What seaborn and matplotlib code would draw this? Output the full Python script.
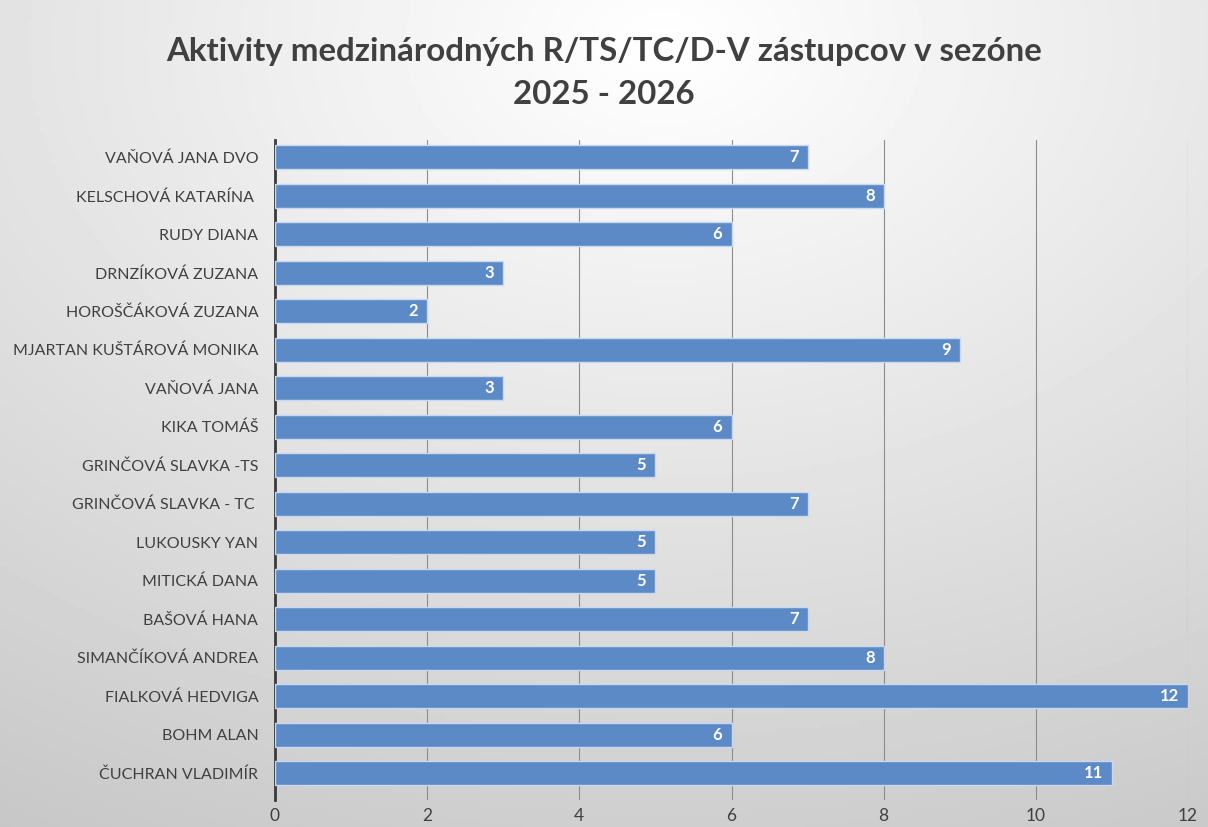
import numpy as np
import pandas as pd
import matplotlib
matplotlib.use("Agg")
import matplotlib.pyplot as plt
import seaborn as sns

names = [
    "VAŇOVÁ JANA DVO",
    "KELSCHOVÁ KATARÍNA ",
    "RUDY DIANA",
    "DRNZÍKOVÁ ZUZANA",
    "HOROŠČÁKOVÁ ZUZANA",
    "MJARTAN KUŠTÁROVÁ MONIKA",
    "VAŇOVÁ JANA",
    "KIKA TOMÁŠ",
    "GRINČOVÁ SLAVKA -TS",
    "GRINČOVÁ SLAVKA - TC ",
    "LUKOUSKY YAN",
    "MITICKÁ DANA",
    "BAŠOVÁ HANA",
    "SIMANČÍKOVÁ ANDREA",
    "FIALKOVÁ HEDVIGA",
    "BOHM ALAN",
    "ČUCHRAN VLADIMÍR",
]
activities = [7, 8, 6, 3, 2, 9, 3, 6, 5, 7, 5, 5, 7, 8, 12, 6, 11]
x_ticks = [0, 2, 4, 6, 8, 10, 12]

title = "Aktivity medzinárodných R/TS/TC/D-V zástupcov v sezóne\n2025 - 2026"

bar_color = "#5B8AC6"
text_color = "#404040"

sns.set_theme(style="white")
plt.rcParams["font.family"] = ["Lato", "DejaVu Sans"]

df = pd.DataFrame({"name": names, "value": activities})

fig = plt.figure(figsize=(12.08, 8.27), dpi=100)

# gradient background over whole figure
bg = fig.add_axes([0, 0, 1, 1], zorder=-10)
yy, xx = np.mgrid[0:1:200j, 0:1:300j]
r = np.sqrt(((xx - 0.55) / 1.0) ** 2 + ((yy - 0.05) / 1.0) ** 2)
bg.imshow(1 - 0.2 * np.clip(r, 0, 1.1), cmap="gray", vmin=0, vmax=1,
          aspect="auto", extent=[0, 1, 1, 0])
bg.axis("off")

ax = fig.add_axes([275 / 1208, 1 - 800 / 827, (1188 - 275) / 1208, (800 - 140) / 827])
ax.patch.set_alpha(0)

sns.barplot(data=df, y="name", x="value", order=names, color=bar_color,
            width=0.62, edgecolor="#C9D8EE", linewidth=1.0, saturation=1,
            ax=ax, zorder=3)

for p, v in zip(ax.patches, activities):
    ax.text(p.get_width() - 0.12, p.get_y() + p.get_height() / 2, str(v),
            ha="right", va="center", color="white", fontsize=12,
            fontweight="bold", zorder=4)

ax.set_xlim(0, 12)
ax.set_ylim(16.7, -0.45)
ax.set_xticks(x_ticks)
ax.set_xticklabels([str(t) for t in x_ticks], fontsize=12.5, color=text_color)
ax.tick_params(axis="x", length=0, pad=6)
ax.tick_params(axis="y", length=0, pad=12, labelsize=11.5, labelcolor=text_color)
ax.set_xlabel("")
ax.set_ylabel("")
ax.xaxis.grid(True, color="#8C8C8C", linewidth=0.8, zorder=0)
ax.set_axisbelow(True)
for s in ["top", "right", "bottom"]:
    ax.spines[s].set_visible(False)
ax.spines["left"].set_color("#3A3A3A")
ax.spines["left"].set_linewidth(2)

fig.text(0.5, 1 - 73 / 827, title, ha="center", va="center", fontsize=23.8,
         fontweight="bold", color=text_color, linespacing=1.55)

fig.savefig("out.png", dpi=100)
